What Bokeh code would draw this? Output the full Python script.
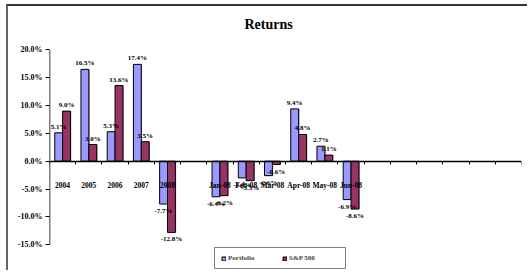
from bokeh.plotting import figure
from bokeh.models import (ColumnDataSource, FixedTicker, PrintfTickFormatter, LinearAxis,
                          Range1d, Legend, LegendItem, Label)
from bokeh.core.properties import value
from bokeh.transform import dodge
from bokeh.embed import file_html
from bokeh.resources import INLINE

# ---- data ----
categories = ["2004", "2005", "2006", "2007", "2008", "",
              "Jan-08", "Feb-08", "Mar-08", "Apr-08", "May-08", "Jun-08"]
portfolio = [5.1, 16.5, 5.3, 17.4, -7.7, None, -6.4, -3.0, -2.6, 9.4, 2.7, -6.9]
sp500 = [9.0, 3.0, 13.6, 3.5, -12.8, None, -6.2, -3.5, -0.6, 4.8, 1.1, -8.6]
y_ticks = [-15, -10, -5, 0, 5, 10, 15, 20]
n_slots = 18  # category slots on the axis (the rest are empty)
title_text = "Returns"

FONT = "Liberation Serif"
BLUE = "#9999FF"
MAROON = "#993366"

xc = [i + 0.5 for i in range(len(categories))]

def nz(v):
    return float("nan") if v is None else v

src = ColumnDataSource(dict(x=xc,
                            p=[nz(v) for v in portfolio],
                            s=[nz(v) for v in sp500]))

# frame extends above and below the tick range to hold the title and the legend
p = figure(width=521, height=266, output_backend="svg", toolbar_location=None,
           x_range=Range1d(0, n_slots), y_range=Range1d(-20.0, 27.8),
           x_axis_location=None,
           min_border_left=41, min_border_right=8, min_border_top=0, min_border_bottom=0)
p.xgrid.visible = False
p.ygrid.visible = False
p.outline_line_color = None
p.background_fill_color = "white"
p.border_fill_color = "white"

p.add_layout(Label(x=219, y=248, x_units="screen", y_units="screen", text=title_text,
                   text_align="center", text_baseline="middle", text_font=FONT,
                   text_font_size="14px", text_font_style="bold", text_color="black"))

# y axis (line drawn separately so it spans only the tick range)
ya = p.yaxis[0]
ya.ticker = FixedTicker(ticks=y_ticks)
ya.formatter = PrintfTickFormatter(format="%.1f%%")
ya.major_label_text_font = FONT
ya.major_label_text_font_size = "8px"
ya.major_label_text_font_style = "bold"
ya.major_label_text_color = "black"
ya.major_tick_in = 0
ya.major_tick_out = 4
ya.minor_tick_out = 0
ya.minor_tick_in = 0
ya.major_label_standoff = 3
ya.axis_line_color = None
ya.major_tick_line_color = "black"
p.segment(x0=[0], y0=[y_ticks[0]], x1=[0], y1=[y_ticks[-1]], line_color="black",
          line_width=1.5)

# x axis crossing at zero, ticks at category boundaries
xa = LinearAxis(fixed_location=0, ticker=FixedTicker(ticks=list(range(n_slots + 1))),
                major_label_text_font_size="0px", major_tick_in=0, major_tick_out=3,
                minor_tick_in=0, minor_tick_out=0, axis_line_color="black",
                axis_line_width=1.5, major_tick_line_color="black",
                major_label_standoff=0)
p.add_layout(xa, "below")

# bar shadows
p.vbar(x=dodge("x", -0.12, range=p.x_range), top="p", bottom=0, width=0.3, source=src,
       fill_color="#8c8c8c", line_color=None)
p.vbar(x=dodge("x", 0.18, range=p.x_range), top="s", bottom=0, width=0.3, source=src,
       fill_color="#8c8c8c", line_color=None)

r1 = p.vbar(x=dodge("x", -0.15, range=p.x_range), top="p", bottom=0, width=0.3, source=src,
            fill_color=BLUE, line_color="black", line_width=1)
r2 = p.vbar(x=dodge("x", 0.15, range=p.x_range), top="s", bottom=0, width=0.3, source=src,
            fill_color=MAROON, line_color="black", line_width=1)

# value labels
def labels(vals, off):
    pos = dict(x=[], y=[], t=[])
    neg = dict(x=[], y=[], t=[])
    for x, v in zip(xc, vals):
        if v is None:
            continue
        d = pos if v >= 0 else neg
        d["x"].append(x + off)
        d["y"].append(v)
        d["t"].append(f"{v:.1f}%")
    return pos, neg

for vals, off in ((portfolio, -0.15), (sp500, 0.15)):
    pos, neg = labels(vals, off)
    p.text(x=pos["x"], y=pos["y"], text=pos["t"], text_align="center",
           text_baseline="bottom", y_offset=-2, text_font=value(FONT),
           text_font_size="7px", text_font_style="bold", text_color="black")
    p.text(x=neg["x"], y=neg["y"], text=neg["t"], text_align="center",
           text_baseline="top", y_offset=3, text_font=value(FONT),
           text_font_size="7px", text_font_style="bold", text_color="black")

# category labels
p.text(x=xc, y=[0] * len(xc), text=categories, text_align="center",
       text_baseline="middle", y_offset=24, text_font=value(FONT),
       text_font_size="7.5px", text_font_style="bold", text_color="black")

legend = Legend(items=[LegendItem(label="Portfolio", renderers=[r1]),
                       LegendItem(label="S&P 500", renderers=[r2])],
                location=(165, 3), orientation="horizontal",
                label_text_font=FONT, label_text_font_size="7px",
                label_text_font_style="bold", glyph_width=5, glyph_height=5,
                label_standoff=2, label_width=50, spacing=4, padding=6, margin=0,
                border_line_color="black", border_line_width=1,
                background_fill_color="white")
p.add_layout(legend)

p.styles = {"margin-top": "4px", "margin-left": "6px",
            "border-top": "2px solid #333333", "border-left": "2px solid #666666"}

open("out.html", "w").write(file_html(p, INLINE))
